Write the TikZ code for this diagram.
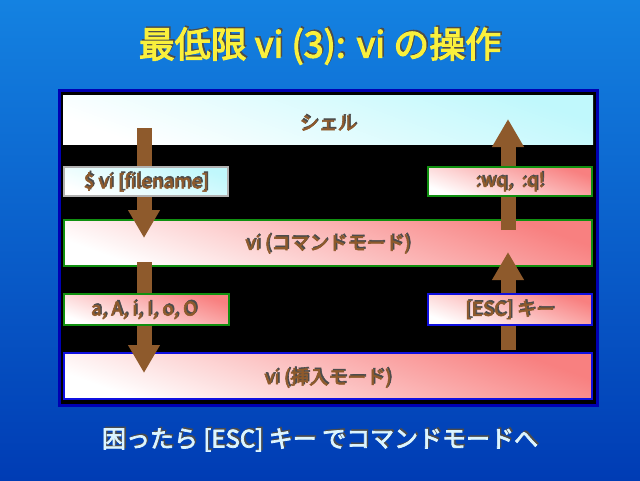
\documentclass[tikz,border=0pt]{standalone}
\usepackage{fontspec}
\setmainfont[AutoFakeBold=3]{Noto Sans CJK JP}
\usetikzlibrary{arrows.meta,shadings}
\definecolor{brn}{HTML}{8E5A2C}
\definecolor{pinkc}{HTML}{F88080}
\definecolor{cyanc}{HTML}{C0F8FC}
\definecolor{grn}{HTML}{109010}
\definecolor{blu}{HTML}{1010E0}
\tikzset{
  txt/.style={font=\bfseries\fontsize{19}{19}\selectfont, text=brn},
  pinkbox/.style={left color=white, right color=pinkc, shading angle=160, line width=2.5pt},
  cyanbox/.style={left color=white, right color=cyanc, shading angle=160, line width=2pt},
  arr/.style={brn, line width=15pt, -{Triangle[width=30pt,length=28pt]}},
}
\newcommand{\shtext}[3]{\node[#1] at ([shift={(1.5pt,1.5pt)}]#2) {\textcolor{black!70}{#3}};\node[#1] at (#2) {#3};}
\begin{document}
\begin{tikzpicture}[x=1pt,y=-1pt]
\useasboundingbox (0,0) rectangle (640,480);
\shade[top color={rgb,255:red,20;green,130;blue,225}, bottom color={rgb,255:red,0;green,60;blue,180}] (0,0) rectangle (640,480);
\fill[blue!70!black] (58,89) rectangle (599,407);
\fill[black] (61,92) rectangle (596,404);
% big boxes
\path[cyanbox] (63,95) rectangle (593,144);
\draw[pinkbox, draw=grn] (64,220) rectangle (592,266);
\draw[pinkbox, draw=blu] (64,353) rectangle (592,399);
% arrows
\coordinate (a1s) at (144,128); \coordinate (a1e) at (144,238);
\coordinate (a2s) at (144,262); \coordinate (a2e) at (144,373);
\coordinate (a3s) at (508,230); \coordinate (a3e) at (508,119);
\coordinate (a4s) at (508,350); \coordinate (a4e) at (508,252);
\draw[arr] (a1s) -- (a1e);
\draw[arr] (a2s) -- (a2e);
\draw[arr] (a3s) -- (a3e);
\draw[arr] (a4s) -- (a4e);
% small boxes
\draw[cyanbox, draw=gray!60] (64,167) rectangle (228,196);
\draw[pinkbox, draw=grn] (428,167) rectangle (592,196);
\draw[pinkbox, draw=grn] (64,294) rectangle (229,325);
\draw[pinkbox, draw=blu] (428,294) rectangle (592,325);
% labels
\coordinate (shell) at (328,123);
\coordinate (vifn) at (146,182);
\coordinate (wq) at (510,182);
\coordinate (cmd) at (328,244);
\coordinate (ins) at (144,310);
\coordinate (esc) at (510,310);
\coordinate (insm) at (328,378);
\shtext{txt}{shell}{シェル}
\shtext{txt}{vifn}{\$ vi [filename]}
\shtext{txt}{wq}{:wq,\ \ :q!}
\shtext{txt}{cmd}{vi (コマンドモード)}
\shtext{txt}{ins}{a, A, i, I, o, O}
\shtext{txt}{esc}{[ESC] キー}
\shtext{txt}{insm}{vi (挿入モード)}
\coordinate (title) at (320,46);
\coordinate (foot) at (320,440);
\shtext{font=\bfseries\fontsize{36}{36}\selectfont, text={rgb,255:red,250;green,240;blue,60}}{title}{最低限 vi (3): vi の操作}
\shtext{font=\bfseries\fontsize{24}{24}\selectfont, text={rgb,255:red,220;green,245;blue,255}}{foot}{困ったら [ESC] キー でコマンドモードへ}
\end{tikzpicture}
\end{document}
